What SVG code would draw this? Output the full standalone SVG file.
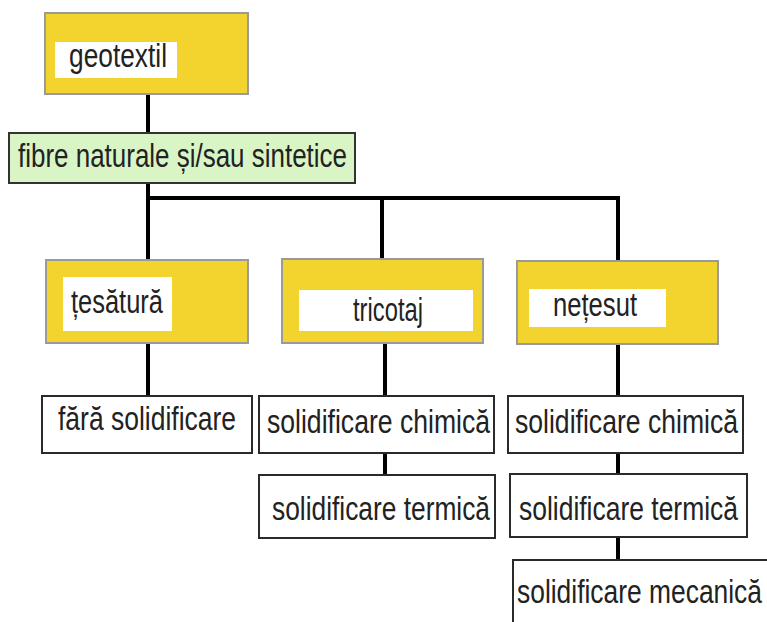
<svg xmlns="http://www.w3.org/2000/svg" width="767" height="622" viewBox="0 0 767 622">
  <style>
    .lbl { font-family: "Liberation Sans", Arial, sans-serif; font-size: 33px; fill: #222; }
    .cat { fill: #f3d42f; stroke: #9a9a9a; stroke-width: 2; }
    .tag { fill: #ffffff; stroke: none; }
    .fib { fill: #d9f5c6; stroke: #333; stroke-width: 2; }
    .box { fill: #ffffff; stroke: #2a2a2a; stroke-width: 2; }
    .wire { fill: none; stroke: #000; stroke-width: 4; }
  </style>
  <rect width="767" height="622" fill="#ffffff"/>

  <!-- connectors -->
  <g id="connectors" class="wire">
    <line x1="148" y1="94" x2="148" y2="133"/>
    <polyline points="148,183 148,198 618,198 618,261"/>
    <line x1="148" y1="198" x2="148" y2="260"/>
    <line x1="382" y1="198" x2="382" y2="259"/>
    <line x1="148" y1="343" x2="148" y2="396"/>
    <line x1="385" y1="343" x2="385" y2="396"/>
    <line x1="385" y1="453" x2="385" y2="475"/>
    <line x1="618" y1="344" x2="618" y2="396"/>
    <line x1="618" y1="453" x2="618" y2="474"/>
    <line x1="618" y1="537" x2="618" y2="560"/>
  </g>

  <!-- root -->
  <g id="geotextil">
    <rect class="cat" x="45" y="13" width="203" height="81"/>
    <rect class="tag" x="55" y="42" width="122" height="36"/>
    <text class="lbl" x="69" y="67" textLength="98" lengthAdjust="spacingAndGlyphs">geotextil</text>
  </g>

  <g id="fibre">
    <rect class="fib" x="9" y="133" width="346" height="50"/>
    <text class="lbl" x="18" y="167" textLength="329" lengthAdjust="spacingAndGlyphs">fibre naturale și/sau sintetice</text>
  </g>

  <!-- structure types -->
  <g id="tesatura">
    <rect class="cat" x="46" y="260" width="202" height="83"/>
    <rect class="tag" x="63" y="277" width="109" height="54"/>
    <text class="lbl" x="71" y="313" textLength="92" lengthAdjust="spacingAndGlyphs">țesătură</text>
  </g>

  <g id="tricotaj">
    <rect class="cat" x="282" y="259" width="201" height="84"/>
    <rect class="tag" x="299" y="290" width="174" height="41"/>
    <text class="lbl" x="353" y="321" textLength="70" lengthAdjust="spacingAndGlyphs">tricotaj</text>
  </g>

  <g id="netesut">
    <rect class="cat" x="517" y="261" width="201" height="83"/>
    <rect class="tag" x="529" y="289" width="137" height="38"/>
    <text class="lbl" x="553" y="316" textLength="84" lengthAdjust="spacingAndGlyphs">nețesut</text>
  </g>

  <!-- consolidation methods -->
  <g id="fara-solidificare">
    <rect class="box" x="42" y="396" width="210" height="57"/>
    <text class="lbl" x="58" y="430" textLength="178" lengthAdjust="spacingAndGlyphs">fără solidificare</text>
  </g>

  <g id="tricotaj-chimica">
    <rect class="box" x="259" y="396" width="235" height="57"/>
    <text class="lbl" x="267" y="433" textLength="223" lengthAdjust="spacingAndGlyphs">solidificare chimică</text>
  </g>

  <g id="tricotaj-termica">
    <rect class="box" x="259" y="475" width="236" height="63"/>
    <text class="lbl" x="272" y="520" textLength="218" lengthAdjust="spacingAndGlyphs">solidificare termică</text>
  </g>

  <g id="netesut-chimica">
    <rect class="box" x="508" y="396" width="235" height="57"/>
    <text class="lbl" x="515" y="433" textLength="223" lengthAdjust="spacingAndGlyphs">solidificare chimică</text>
  </g>

  <g id="netesut-termica">
    <rect class="box" x="510" y="474" width="237" height="63"/>
    <text class="lbl" x="519" y="520" textLength="219" lengthAdjust="spacingAndGlyphs">solidificare termică</text>
  </g>

  <g id="netesut-mecanica">
    <rect class="box" x="513" y="560" width="270" height="80"/>
    <text class="lbl" x="517" y="603" textLength="245" lengthAdjust="spacingAndGlyphs">solidificare mecanică</text>
  </g>
</svg>
